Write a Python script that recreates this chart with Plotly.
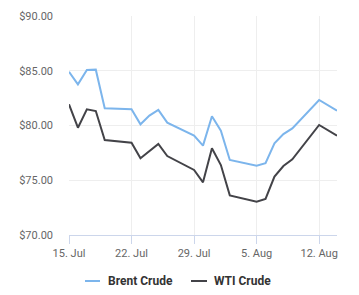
import plotly.graph_objects as go

dates = ["2024-07-15", "2024-07-16", "2024-07-17", "2024-07-18", "2024-07-19",
         "2024-07-22", "2024-07-23", "2024-07-24", "2024-07-25", "2024-07-26",
         "2024-07-29", "2024-07-30", "2024-07-31", "2024-08-01", "2024-08-02",
         "2024-08-05", "2024-08-06", "2024-08-07", "2024-08-08", "2024-08-09",
         "2024-08-12", "2024-08-14"]
brent = [84.91, 83.76, 85.07, 85.10, 81.57,
         81.48, 80.11, 80.90, 81.42, 80.26,
         79.07, 78.16, 80.84, 79.53, 76.85,
         76.33, 76.55, 78.37, 79.22, 79.74,
         82.33, 81.35]
wti = [81.93, 79.80, 81.48, 81.32, 78.68,
       78.43, 77.00, 77.65, 78.31, 77.21,
       75.94, 74.81, 77.92, 76.39, 73.62,
       73.04, 73.29, 75.33, 76.30, 76.91,
       80.05, 79.07]
series_names = ["Brent Crude", "WTI Crude"]
colors = ["#7cb5ec", "#434348"]

L, R, T, B = 69, 22, 16, 60
W, H = 359, 295
pw, ph = W - L - R, H - T - B

fig = go.Figure()
for name, vals, c in zip(series_names, [brent, wti], colors):
    fig.add_trace(go.Scatter(x=dates, y=vals, name=name, mode="lines",
                             line=dict(color=c, width=2), showlegend=False))

# custom legend (Highcharts style, short keys)
legend_y = (T + ph - 281) / ph
legend_items = [(85, 100, 106), (191, 207, 212)]
for (x0, x1, xt), name, c in zip(legend_items, series_names, colors):
    fig.add_shape(type="line", xref="paper", yref="paper",
                  x0=(x0 - L) / pw, x1=(x1 - L) / pw, y0=legend_y, y1=legend_y,
                  line=dict(color=c, width=2))
    fig.add_annotation(xref="paper", yref="paper", x=(xt - L) / pw, y=legend_y,
                       xanchor="left", yanchor="middle", showarrow=False,
                       text="<b>%s</b>" % name,
                       font=dict(size=12, color="#333333", family="Roboto"))

fig.update_layout(
    width=W, height=H,
    margin=dict(l=L, r=R, t=T, b=B),
    paper_bgcolor="white", plot_bgcolor="white",
    font=dict(family="Roboto", size=11, color="#666666"),
    showlegend=False,
)
fig.update_xaxes(
    type="date", range=["2024-07-15", "2024-08-14"],
    tick0="2024-07-15", dtick=7 * 24 * 3600 * 1000, tickformat="%-d. %b",
    showgrid=True, gridcolor="#eeeeee", gridwidth=1,
    showline=True, linecolor="#ccd6eb", linewidth=1,
    ticks="outside", ticklen=8, tickcolor="#ccd6eb",
    zeroline=False, automargin=False,
)
fig.update_yaxes(
    range=[70, 90], dtick=5, tickformat="$.2f",
    showgrid=True, gridcolor="#eeeeee", gridwidth=1,
    zeroline=False, ticklabelstandoff=15, automargin=False,
)
fig.write_html("out.html")
